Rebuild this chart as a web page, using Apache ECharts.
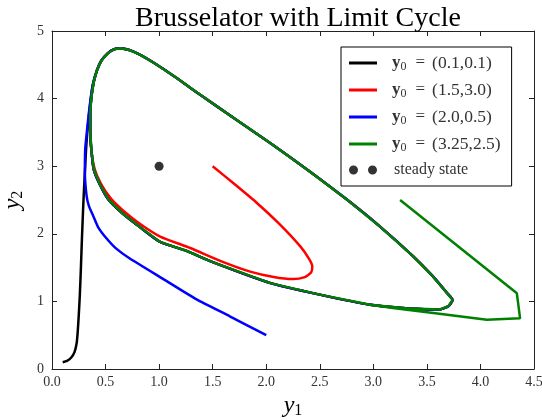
<!DOCTYPE html>
<html>
<head>
<meta charset="utf-8">
<script src="https://cdn.jsdelivr.net/npm/echarts@6/dist/echarts.min.js"></script>
<style>
html, body { margin: 0; padding: 0; background: #fff; }
#chart { width: 542px; height: 420px; }
</style>
</head>
<body>
<div id="chart"></div>
<script>
// limit cycle (clockwise, starting on the left edge)
const cycleY1 = [0.39, 0.37, 0.357, 0.357, 0.37, 0.39, 0.42, 0.46, 0.52, 0.58, 0.64, 0.72, 0.82, 0.95, 1.15, 1.38, 1.70, 2.04, 2.40, 2.75, 3.06, 3.37, 3.55, 3.69, 3.74, 3.70, 3.62, 3.30, 2.97, 2.50, 2.04, 1.50, 1.25, 1.01, 0.82, 0.66, 0.53, 0.45, 0.39];
const cycleY2 = [2.95, 3.20, 3.50, 3.80, 4.05, 4.25, 4.42, 4.56, 4.67, 4.73, 4.745, 4.72, 4.65, 4.53, 4.32, 4.06, 3.71, 3.34, 2.93, 2.51, 2.11, 1.67, 1.38, 1.12, 1.02, 0.93, 0.88, 0.90, 0.95, 1.10, 1.27, 1.58, 1.75, 1.88, 2.10, 2.30, 2.50, 2.72, 2.95];

// transients before each trajectory reaches the cycle
const blackY1 = [0.10, 0.14, 0.18, 0.21, 0.23, 0.24, 0.25, 0.26, 0.27, 0.28, 0.29, 0.30, 0.31, 0.32, 0.335, 0.355, 0.38];
const blackY2 = [0.10, 0.12, 0.17, 0.25, 0.38, 0.55, 0.80, 1.10, 1.50, 1.95, 2.35, 2.70, 3.00, 3.30, 3.60, 3.90, 4.20];

const redY1 = [1.50, 1.70, 1.91, 2.12, 2.32, 2.40, 2.43, 2.42, 2.36, 2.25, 2.07, 1.85, 1.60, 1.29, 1.01, 0.82, 0.66, 0.55, 0.46, 0.40];
const redY2 = [3.00, 2.74, 2.46, 2.15, 1.81, 1.63, 1.52, 1.43, 1.36, 1.33, 1.36, 1.44, 1.58, 1.79, 1.96, 2.15, 2.35, 2.52, 2.73, 2.95];

const blueY1 = [2.00, 1.66, 1.35, 1.04, 0.73, 0.60, 0.51, 0.43, 0.386, 0.345, 0.324, 0.307, 0.31, 0.325, 0.345, 0.37, 0.40];
const blueY2 = [0.50, 0.78, 1.03, 1.33, 1.63, 1.78, 1.93, 2.10, 2.26, 2.41, 2.55, 2.90, 3.25, 3.50, 3.80, 4.10, 4.32];

const greenY1 = [3.25, 4.34, 4.37, 4.06, 3.56, 3.20, 2.97];
const greenY2 = [2.50, 1.12, 0.75, 0.73, 0.83, 0.90, 0.95];

const steadyY1 = [1.0];
const steadyY2 = [3.0];

const startLabels = ['(0.1,0.1)', '(1.5,3.0)', '(2.0,0.5)', '(3.25,2.5)'];
const lineColors = ['#000000', '#ff0000', '#0000ff', '#008000'];

function pairs(xs, ys) {
    return xs.map(function (x, i) { return [x, ys[i]]; });
}

const cycle = pairs(cycleY1, cycleY2);
const tracks = [
    pairs(blackY1, blackY2).concat(cycle.slice(6), cycle.slice(1, 12)),
    pairs(redY1, redY2).concat(cycle.slice(1), cycle.slice(1, 12)),
    pairs(blueY1, blueY2).concat(cycle.slice(7), cycle.slice(1, 12)),
    pairs(greenY1, greenY2).concat(cycle.slice(29), cycle.slice(1))
];

const serif = 'Liberation Serif';
const lineIcon = 'path://M0,0 L28,0 L28,3 L0,3 Z';
const dotsIcon = 'path://M0,4.5 A4.5,4.5 0 1,0 9,4.5 A4.5,4.5 0 1,0 0,4.5 Z M19,4.5 A4.5,4.5 0 1,0 28,4.5 A4.5,4.5 0 1,0 19,4.5 Z';

const series = tracks.map(function (d, i) {
    return {
        name: startLabels[i],
        type: 'line',
        data: d,
        showSymbol: false,
        symbol: 'none',
        smooth: i === 3 ? false : 0.2,
        color: lineColors[i],
        lineStyle: { width: 2.5, color: lineColors[i] },
        animation: false,
        z: 2 + i
    };
});
series.push({
    name: 'steady state',
    type: 'scatter',
    data: pairs(steadyY1, steadyY2),
    symbolSize: 9,
    itemStyle: { color: '#000' },
    animation: false,
    z: 10
});

function valueAxis(pos, show, extra) {
    return Object.assign({
        type: 'value',
        position: pos,
        axisLine: { show: true, onZero: false, lineStyle: { color: '#222', width: 1 } },
        axisTick: { show: true, inside: true, length: 5, lineStyle: { color: '#222' } },
        splitLine: { show: false },
        axisLabel: { show: show, color: '#333', fontFamily: serif, fontSize: 14 }
    }, extra);
}

const nameRich = {
    v: { fontFamily: serif, fontStyle: 'italic', fontSize: 24, color: '#000', lineHeight: 26 },
    s: { fontFamily: serif, fontSize: 16, color: '#000', verticalAlign: 'bottom', lineHeight: 20 }
};

const chart = echarts.init(document.getElementById('chart'), null, { renderer: 'canvas' });
chart.setOption({
    backgroundColor: '#fff',
    animation: false,
    title: {
        text: 'Brusselator with Limit Cycle',
        left: 293,
        textAlign: 'center',
        top: 0,
        textStyle: { fontFamily: serif, fontSize: 28, fontWeight: 'normal', color: '#000' }
    },
    grid: { left: 52, right: 8, top: 31, bottom: 51, containLabel: false, outerBoundsMode: 'none' },
    xAxis: [
        valueAxis('bottom', true, {
            min: 0, max: 4.5, interval: 0.5,
            axisLabel: { color: '#333', fontFamily: serif, fontSize: 14, margin: 6,
                formatter: function (v) { return v.toFixed(1); } },
            name: '{v|y}{s|1}',
            nameLocation: 'middle',
            nameGap: 18,
            nameTextStyle: { rich: nameRich }
        }),
        valueAxis('top', false, { min: 0, max: 4.5, interval: 0.5 })
    ],
    yAxis: [
        valueAxis('left', true, {
            min: 0, max: 5, interval: 1,
            axisLabel: { color: '#333', fontFamily: serif, fontSize: 14, margin: 8 },
            name: '{v|y}{s|2}',
            nameLocation: 'middle',
            nameGap: 24,
            nameTextStyle: { rich: nameRich }
        }),
        valueAxis('right', false, { min: 0, max: 5, interval: 1 })
    ],
    legend: {
        orient: 'vertical',
        left: 341,
        top: 47,
        padding: [7, 11, 8, 8],
        itemGap: 8,
        itemWidth: 28,
        itemHeight: 10,
        borderColor: '#000',
        borderWidth: 1,
        borderRadius: 0,
        backgroundColor: '#fff',
        itemStyle: { borderWidth: 0 },
        data: startLabels.map(function (n) { return { name: n, icon: lineIcon }; })
            .concat([{ name: 'steady state', icon: dotsIcon }]),
        formatter: function (name) {
            if (name === 'steady state') return '{n|steady state}';
            return '{b|y}{s|0}{e|=}{t|' + name + '}';
        },
        textStyle: {
            fontFamily: serif,
            fontSize: 16,
            color: '#333',
            rich: {
                b: { fontFamily: serif, fontWeight: 'bold', fontSize: 17, color: '#333', lineHeight: 20, padding: [0, 0, 0, 10] },
                s: { fontFamily: serif, fontSize: 12, color: '#333', verticalAlign: 'bottom', lineHeight: 17 },
                e: { fontFamily: serif, fontSize: 17, color: '#333', lineHeight: 20, padding: [0, 7, 0, 9] },
                t: { fontFamily: serif, fontSize: 17.5, color: '#333', lineHeight: 20 },
                n: { fontFamily: serif, fontSize: 16, color: '#333', lineHeight: 20, padding: [0, 0, 0, 12] }
            }
        }
    },
    series: series
});
</script>
</body>
</html>
